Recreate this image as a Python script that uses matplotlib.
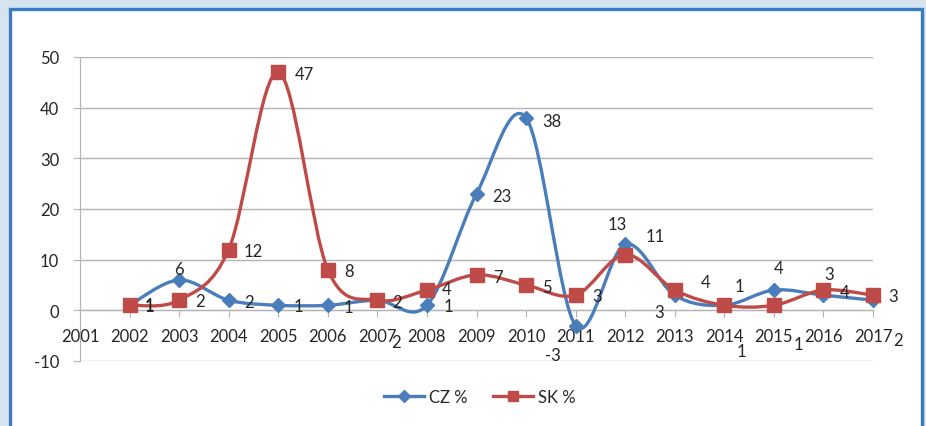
import numpy as np
import matplotlib
matplotlib.use('Agg')
import matplotlib.pyplot as plt
from matplotlib.path import Path
from matplotlib.patches import PathPatch, Rectangle
from matplotlib.lines import Line2D

plt.rcParams['font.family'] = ['Lato', 'DejaVu Sans']
plt.rcParams['axes.unicode_minus'] = False

years = list(range(2002, 2018))
cz = [1, 6, 2, 1, 1, 2, 1, 23, 38, -3, 13, 3, 1, 4, 3, 2]
sk = [1, 2, 12, 47, 8, 2, 4, 7, 5, 3, 11, 4, 1, 1, 4, 3]

# label offsets in pixels (dx, dy with y downward) from each marker
cz_label_off = [(20, 0), (0, -11), (20, 2), (20, 1), (21, 2), (19, 42), (21, 1), (25, 2),
                (26, 3), (-23, 29), (-8, -20), (-16, 17), (17, 46), (5, -22), (6, -21), (25, 40)]
sk_label_off = [(20, 1), (21, 1), (25, 1), (26, 2), (21, 1), (20, 2), (20, -1), (21, 2),
                (21, 2), (21, 1), (30, -19), (31, -8), (15, -19), (25, 39), (21, 2), (20, 1)]

BLUE = '#4a7ebb'
RED = '#be4b48'
TEXT = '#262626'
GRID = '#b3b3b3'
FS = 12


def smooth_path(x, y):
    # Excel-style smoothed line: Catmull-Rom expressed as cubic Bezier segments
    pts = np.column_stack([x, y]).astype(float)
    n = len(pts)
    verts = [pts[0]]
    codes = [Path.MOVETO]
    for i in range(n - 1):
        p0 = pts[i - 1] if i > 0 else pts[i]
        p1 = pts[i]
        p2 = pts[i + 1]
        p3 = pts[i + 2] if i + 2 < n else pts[i + 1]
        c1 = p1 + (p2 - p0) / 6.0
        c2 = p2 - (p3 - p1) / 6.0
        verts += [c1, c2, p2]
        codes += [Path.CURVE4] * 3
    return Path(verts, codes)


fig = plt.figure(figsize=(9.26, 4.27), dpi=100)
fig.patch.set_facecolor('#d5e4ef')
fig.patches.append(Rectangle((9.5 / 926, -0.05), (921.5 - 9.5) / 926, 1 - 9.5 / 427 + 0.05,
                             transform=fig.transFigure, facecolor='white',
                             edgecolor='#3b7bc4', linewidth=2.4, zorder=-10))

ax = fig.add_axes([80 / 926, 1 - 362 / 427, (873 - 80) / 926, (362 - 58) / 427])
ax.set_facecolor('none')
ax.set_xlim(2001, 2017)
ax.set_ylim(-10, 50)
ax.set_yticks(range(-10, 51, 10))
ax.set_xticks(range(2001, 2018))
ax.set_xticklabels([str(y) for y in range(2001, 2018)])

for s in ['top', 'right']:
    ax.spines[s].set_visible(False)
ax.spines['bottom'].set_position(('data', 0))
ax.spines['bottom'].set_color(GRID)
ax.spines['left'].set_color(GRID)
ax.tick_params(axis='x', direction='out', length=5, color=GRID, pad=8, labelsize=FS, labelcolor=TEXT)
ax.tick_params(axis='y', direction='out', length=5, color=GRID, pad=10, labelsize=FS, labelcolor=TEXT)
ax.grid(axis='y', color=GRID, linewidth=1.0)
ax.set_axisbelow(True)

for vals, color, marker, ms in [(cz, BLUE, 'D', 7.5), (sk, RED, 's', 9.5)]:
    ax.add_patch(PathPatch(smooth_path(years, vals), facecolor='none', edgecolor=color,
                           linewidth=2.4, zorder=3, capstyle='round'))
    ax.plot(years, vals, linestyle='none', marker=marker, markersize=ms,
            color=color, zorder=4, clip_on=False)

for vals, offs in [(cz, cz_label_off), (sk, sk_label_off)]:
    for x, v, (dx, dy) in zip(years, vals, offs):
        ax.annotate(str(v), (x, v), xytext=(dx, -dy), textcoords='offset pixels',
                    ha='center', va='center', fontsize=FS, color=TEXT, zorder=5)

handles = [Line2D([], [], color=BLUE, linewidth=2.4, marker='D', markersize=6),
           Line2D([], [], color=RED, linewidth=2.4, marker='s', markersize=7)]
fig.legend(handles, ['CZ %', 'SK %'], loc='center', bbox_to_anchor=(480 / 926, 1 - 398 / 427),
           ncol=2, frameon=False, fontsize=FS, handlelength=2.4, columnspacing=1.5,
           handletextpad=0.3, labelcolor=TEXT)

fig.savefig('out.png', dpi=100, facecolor=fig.get_facecolor())
